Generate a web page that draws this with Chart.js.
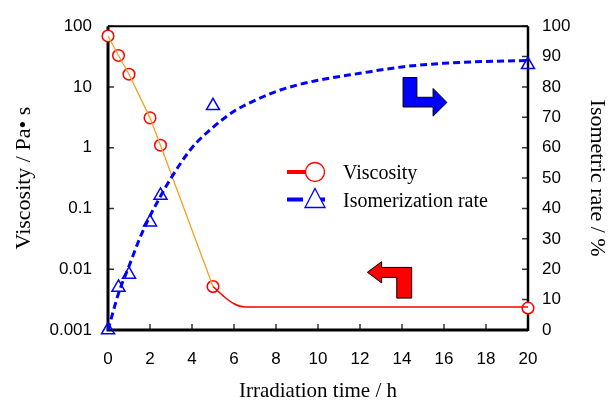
<!DOCTYPE html>
<html>
<head>
<meta charset="utf-8">
<script src="https://cdn.jsdelivr.net/npm/chart.js@4.4.1/dist/chart.umd.min.js"></script>
<style>
  html, body { margin: 0; padding: 0; background: #fff; }
  canvas { display: block; }
</style>
</head>
<body>
<canvas id="chartCanvas" width="608" height="403"></canvas>
<script>
// measured viscosity (Pa s) vs irradiation time (h)
const viscTime = [0, 0.5, 1, 2, 2.5, 5, 20];
const viscValues = [69, 33, 16.2, 3.1, 1.1, 0.0052, 0.0023];
// red fitted line after 5 h
const viscFitTime = [5, 5.5, 6, 6.5, 7, 20];
const viscFitValues = [0.0052, 0.0036, 0.0027, 0.0024, 0.0024, 0.0024];

// measured isomerization rate (%)
const isoTime = [0, 0.5, 1, 2, 2.5, 5, 20];
const isoValues = [0, 14, 18.3, 35.5, 44.3, 73.8, 87.3];
// blue dashed fitted curve
const isoFitTime = [0, 0.5, 1, 1.5, 2, 2.5, 3, 4, 5, 6, 7, 8, 9, 10, 12, 14, 16, 18, 20];
const isoFitValues = [0, 12, 21, 30, 37.5, 44, 50, 60, 66.7, 72, 75.6, 78.5, 80.6, 82.2, 84.5, 86.6, 87.8, 88.4, 88.7];

const timeTicks = [0, 2, 4, 6, 8, 10, 12, 14, 16, 18, 20];
const viscTicks = [0.001, 0.01, 0.1, 1, 10, 100];
const viscTickLabels = ['0.001', '0.01', '0.1', '1', '10', '100'];
const rateTicks = [0, 10, 20, 30, 40, 50, 60, 70, 80, 90, 100];

const toXY = (xs, ys) => xs.map((x, i) => ({ x: x, y: ys[i] }));

// frame + inward tick marks
const frameTicks = {
  id: 'frameTicks',
  beforeDatasetsDraw(chart) {
    const { ctx, chartArea: a, scales } = chart;
    ctx.save();
    ctx.strokeStyle = '#333';
    ctx.lineWidth = 1.5;
    ctx.beginPath();
    scales.x.ticks.forEach(t => {
      const px = scales.x.getPixelForValue(t.value);
      ctx.moveTo(px, a.bottom); ctx.lineTo(px, a.bottom - 6);
    });
    scales.y.ticks.forEach(t => {
      const py = scales.y.getPixelForValue(t.value);
      ctx.moveTo(a.left, py); ctx.lineTo(a.left + 6, py);
    });
    scales.y1.ticks.forEach(t => {
      const py = scales.y1.getPixelForValue(t.value);
      ctx.moveTo(a.right, py); ctx.lineTo(a.right - 6, py);
    });
    ctx.stroke();
    ctx.strokeStyle = '#000';
    ctx.lineWidth = 2;
    ctx.beginPath();
    ctx.moveTo(a.left, a.top); ctx.lineTo(a.right, a.top);
    ctx.stroke();
    ctx.lineWidth = 3;
    ctx.beginPath();
    ctx.moveTo(a.left, a.top); ctx.lineTo(a.left, a.bottom); ctx.lineTo(a.right, a.bottom);
    ctx.stroke();
    ctx.lineWidth = 2.5;
    ctx.beginPath();
    ctx.moveTo(a.right, a.bottom + 1); ctx.lineTo(a.right, a.top);
    ctx.stroke();
    ctx.restore();
  }
};

// the two bent arrows pointing to each axis, placed in (h, %) coordinates
const blueArrow = [[14.05, 83.1], [14.71, 83.1], [14.71, 76.6], [15.48, 76.6], [15.48, 79.5],
  [16.14, 74.9], [15.48, 70.4], [15.48, 73.4], [14.05, 73.4]];
const redArrow = [[14.46, 20.6], [14.46, 10.5], [13.75, 10.5], [13.75, 17.3], [13.03, 17.3],
  [13.03, 15.5], [12.35, 19.0], [13.03, 22.5], [13.03, 20.6]];

const arrows = {
  id: 'arrows',
  afterDatasetsDraw(chart) {
    const { ctx, scales } = chart;
    const draw = (pts, fill) => {
      ctx.beginPath();
      pts.forEach((p, i) => {
        const px = scales.x.getPixelForValue(p[0]);
        const py = scales.y1.getPixelForValue(p[1]);
        if (i === 0) ctx.moveTo(px, py); else ctx.lineTo(px, py);
      });
      ctx.closePath();
      ctx.fillStyle = fill;
      ctx.fill();
      ctx.strokeStyle = '#000';
      ctx.lineWidth = 1;
      ctx.stroke();
    };
    ctx.save();
    draw(blueArrow, '#0000ff');
    draw(redArrow, '#ff0000');
    ctx.restore();
  }
};

// legend: line + marker + label, like the original
const legendBox = {
  id: 'legendBox',
  afterDatasetsDraw(chart) {
    const { ctx } = chart;
    const x0 = 287, mx = 315, tx = 343, y1 = 172, y2 = 199.5;
    ctx.save();
    ctx.lineCap = 'butt';
    // viscosity row
    ctx.strokeStyle = '#ff0000';
    ctx.lineWidth = 4;
    ctx.beginPath(); ctx.moveTo(x0, y1); ctx.lineTo(x0 + 38, y1); ctx.stroke();
    ctx.fillStyle = '#fff';
    ctx.lineWidth = 1.3;
    ctx.beginPath(); ctx.arc(mx, y1, 9.5, 0, Math.PI * 2); ctx.fill(); ctx.stroke();
    // isomerization row
    ctx.strokeStyle = '#0000ff';
    ctx.lineWidth = 4;
    ctx.beginPath();
    ctx.moveTo(x0, y2); ctx.lineTo(x0 + 16, y2);
    ctx.moveTo(x0 + 33, y2); ctx.lineTo(x0 + 38, y2);
    ctx.stroke();
    ctx.fillStyle = '#fff';
    ctx.lineWidth = 1.3;
    ctx.beginPath();
    ctx.moveTo(mx, y2 - 11); ctx.lineTo(mx + 10, y2 + 8); ctx.lineTo(mx - 10, y2 + 8);
    ctx.closePath(); ctx.fill(); ctx.stroke();
    ctx.fillStyle = '#000';
    ctx.font = '20px "Liberation Serif", "Times New Roman", serif';
    ctx.textBaseline = 'alphabetic';
    ctx.textAlign = 'left';
    ctx.fillText('Viscosity', tx, y1 + 7);
    ctx.fillText('Isomerization rate', tx, y2 + 7);
    ctx.restore();
  }
};

const tickFont = { family: '"Liberation Sans", Arial, sans-serif', size: 17 };
const titleFontY = { family: '"Liberation Serif", "Times New Roman", serif', size: 22, lineHeight: 1 };
const titleFontX = { family: '"Liberation Serif", "Times New Roman", serif', size: 21, lineHeight: 1 };

new Chart(document.getElementById('chartCanvas'), {
  type: 'scatter',
  data: {
    datasets: [
      {
        // blue dashed fit
        data: toXY(isoFitTime, isoFitValues),
        yAxisID: 'y1',
        showLine: true,
        borderColor: '#0000ff',
        borderWidth: 3,
        borderDash: [7, 4],
        pointRadius: 0,
        cubicInterpolationMode: 'monotone',
        clip: false
      },
      {
        // orange line through the measured viscosities up to 5 h
        data: toXY(viscTime.slice(0, 6), viscValues.slice(0, 6)),
        yAxisID: 'y',
        showLine: true,
        borderColor: '#f5a020',
        borderWidth: 1.3,
        pointRadius: 0,
        clip: false
      },
      {
        // red fitted tail
        data: toXY(viscFitTime, viscFitValues),
        yAxisID: 'y',
        showLine: true,
        borderColor: '#ff0000',
        borderWidth: 1.5,
        pointRadius: 0,
        cubicInterpolationMode: 'monotone',
        clip: false
      },
      {
        label: 'Viscosity',
        data: toXY(viscTime, viscValues),
        yAxisID: 'y',
        showLine: false,
        pointStyle: 'circle',
        pointRadius: 5.8,
        pointBorderWidth: 1.5,
        pointBackgroundColor: '#fff',
        pointBorderColor: '#ff0000',
        clip: false
      },
      {
        label: 'Isomerization rate',
        data: toXY(isoTime, isoValues),
        yAxisID: 'y1',
        showLine: false,
        pointStyle: 'triangle',
        pointRadius: 7.5,
        pointBorderWidth: 1.5,
        pointBackgroundColor: 'rgba(255,255,255,0)',
        pointBorderColor: '#0000ff',
        clip: false
      }
    ]
  },
  options: {
    responsive: false,
    animation: false,
    layout: { padding: { top: 22, left: 0, right: 0, bottom: 0 } },
    plugins: { legend: { display: false }, tooltip: { enabled: false } },
    scales: {
      x: {
        type: 'linear',
        min: 0, max: 20,
        afterBuildTicks: s => { s.ticks = timeTicks.map(v => ({ value: v })); },
        afterFit: s => { s.height = 73; },
        grid: { display: false, drawTicks: false },
        border: { display: false },
        ticks: { font: tickFont, color: '#000', padding: 19, maxRotation: 0 },
        title: {
          display: true, text: 'Irradiation time / h',
          font: titleFontX, color: '#000', padding: { top: 0, bottom: 1 }
        }
      },
      y: {
        type: 'logarithmic',
        position: 'left',
        min: 0.001, max: 100,
        afterBuildTicks: s => { s.ticks = viscTicks.map(v => ({ value: v })); },
        afterFit: s => { s.width = 108; },
        grid: { display: false, drawTicks: false },
        border: { display: false },
        ticks: {
          font: tickFont, color: '#000', padding: 16,
          callback: (v, i) => viscTickLabels[i]
        },
        title: {
          display: true, text: 'Viscosity / Pa\u2022 s',
          font: titleFontY, color: '#000', padding: { top: 13, bottom: 0 }
        }
      },
      y1: {
        type: 'linear',
        position: 'right',
        min: 0, max: 100,
        afterBuildTicks: s => { s.ticks = rateTicks.map(v => ({ value: v })); },
        afterFit: s => { s.width = 80; },
        grid: { display: false, drawTicks: false },
        border: { display: false },
        ticks: { font: tickFont, color: '#000', padding: 14 },
        title: {
          display: true, text: 'Isometric rate / %',
          font: titleFontY, color: '#000', padding: { top: 0, bottom: 0 }
        }
      }
    }
  },
  plugins: [frameTicks, arrows, legendBox]
});
</script>
</body>
</html>
